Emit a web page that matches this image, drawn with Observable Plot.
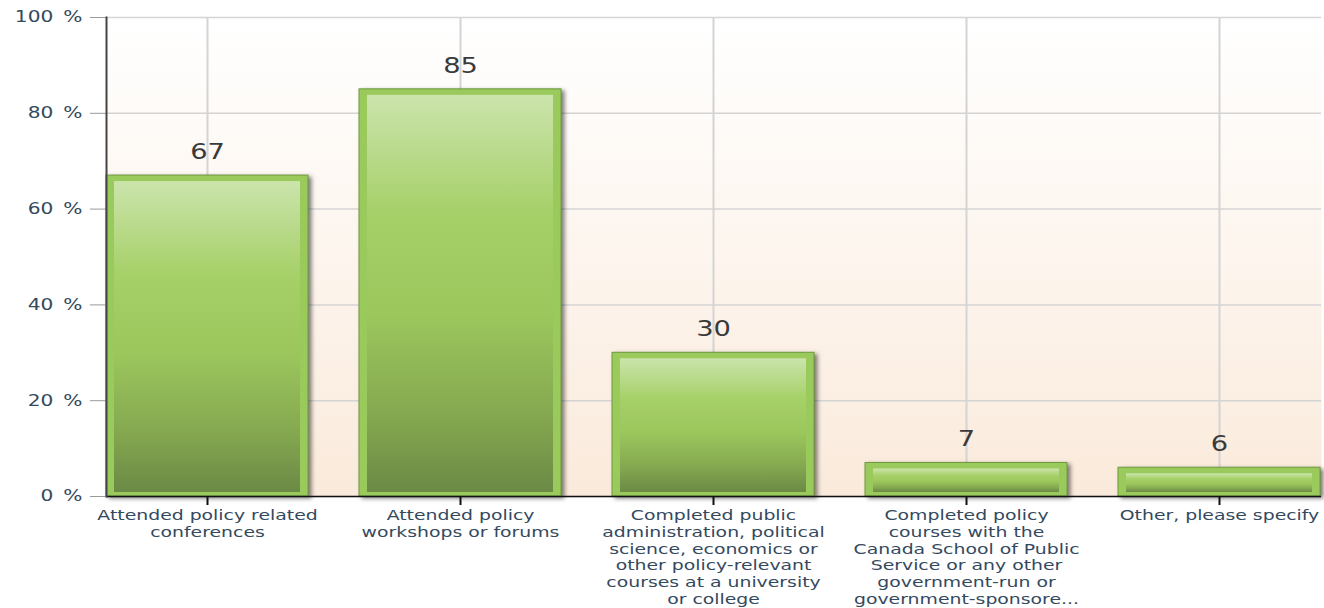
<!DOCTYPE html>
<html><head><meta charset="utf-8">
<script src="https://cdn.jsdelivr.net/npm/d3@7"></script>
<script src="https://cdn.jsdelivr.net/npm/@observablehq/plot@0.6"></script>
<style>body{margin:0;background:#fff;overflow:hidden;}</style>
</head><body><div id="chart"></div>
<script>
const categories = [
  "Attended policy related conferences",
  "Attended policy workshops or forums",
  "Completed public administration, political science, economics or other policy-relevant courses at a university or college",
  "Completed policy courses with the Canada School of Public Service or any other government-run or government-sponsore...",
  "Other, please specify"
];
const tickLabels = [
  "Attended policy related\nconferences",
  "Attended policy\nworkshops or forums",
  "Completed public\nadministration, political\nscience, economics or\nother policy-relevant\ncourses at a university\nor college",
  "Completed policy\ncourses with the\nCanada School of Public\nService or any other\ngovernment-run or\ngovernment-sponsore...",
  "Other, please specify"
];
const values = [67, 85, 30, 7, 6];
const yTicks = [0, 20, 40, 60, 80, 100];

const data = categories.map((c, i) => ({category: c, value: values[i]}));
const labelOf = new Map(categories.map((c, i) => [c, tickLabels[i]]));

const plot = Plot.plot({
  width: 1324, height: 608,
  marginLeft: 106, marginRight: 3, marginTop: 17, marginBottom: 112,
  style: {fontFamily: "DejaVu Sans", background: "#fff", overflow: "visible"},
  x: {domain: categories, paddingInner: 0.2, paddingOuter: 0},
  y: {domain: [0, 100]},
  marks: [
    Plot.frame({fill: "url(#bgGrad)", stroke: null}),
    Plot.gridY(yTicks, {stroke: "#d4d4d4", strokeOpacity: 1, strokeWidth: 1.5}),
    Plot.gridX({stroke: "#d4d4d4", strokeOpacity: 1, strokeWidth: 2}),
    Plot.barY(data, {x: "category", y: "value", fill: "#9aca5c", stroke: "#6f9a3e", strokeWidth: 1}),
    Plot.barY(data, {x: "category", y: "value", fill: "url(#barGrad)", insetLeft: 8, insetRight: 8, insetTop: 6, insetBottom: 4}),
    Plot.text(data, {x: "category", y: "value", text: d => String(d.value), dy: -16.5, lineAnchor: "bottom", fontSize: 21, fill: "#3a3a3a"}),
    Plot.axisY({ticks: yTicks, tickSize: 16, tickPadding: 8, tickFormat: d => `${d}\u2002%`, stroke: "#9a9a9a", fill: "#34495e", fontSize: 15.5, label: null}),
    Plot.axisX({tickSize: 9, tickPadding: 2.5, tickFormat: c => labelOf.get(c), stroke: "#111", strokeWidth: 2, fill: "#34495e", fontSize: 14.5, lineHeight: 1.16, label: null}),
    Plot.ruleY([0], {stroke: "#111", strokeWidth: 1.5}),
    Plot.frame({anchor: "left", stroke: "#444", strokeWidth: 2})
  ]
});

const svg = d3.select(plot);
svg.insert("defs", ":first-child").html(`
  <linearGradient id="bgGrad" x1="0" y1="0" x2="0" y2="1">
    <stop offset="0" stop-color="#ffffff"/>
    <stop offset="0.5" stop-color="#fdf5ee"/>
    <stop offset="1" stop-color="#faeadb"/>
  </linearGradient>
  <linearGradient id="barGrad" x1="0" y1="0" x2="0" y2="1">
    <stop offset="0" stop-color="#cbe4ac"/>
    <stop offset="0.3" stop-color="#a6d068"/>
    <stop offset="0.55" stop-color="#9cc75d"/>
    <stop offset="0.8" stop-color="#85a950"/>
    <stop offset="1" stop-color="#6b8a45"/>
  </linearGradient>`);
svg.select('g[aria-label="bar"]').style("filter", "drop-shadow(3px 2px 2px rgba(0,0,0,0.5))");
svg.selectAll("text").each(function() {
  const t = this.getAttribute("transform") || "";
  this.setAttribute("transform", t + " scale(1.3,1)");
});
document.getElementById("chart").appendChild(plot);
</script>
</body></html>
